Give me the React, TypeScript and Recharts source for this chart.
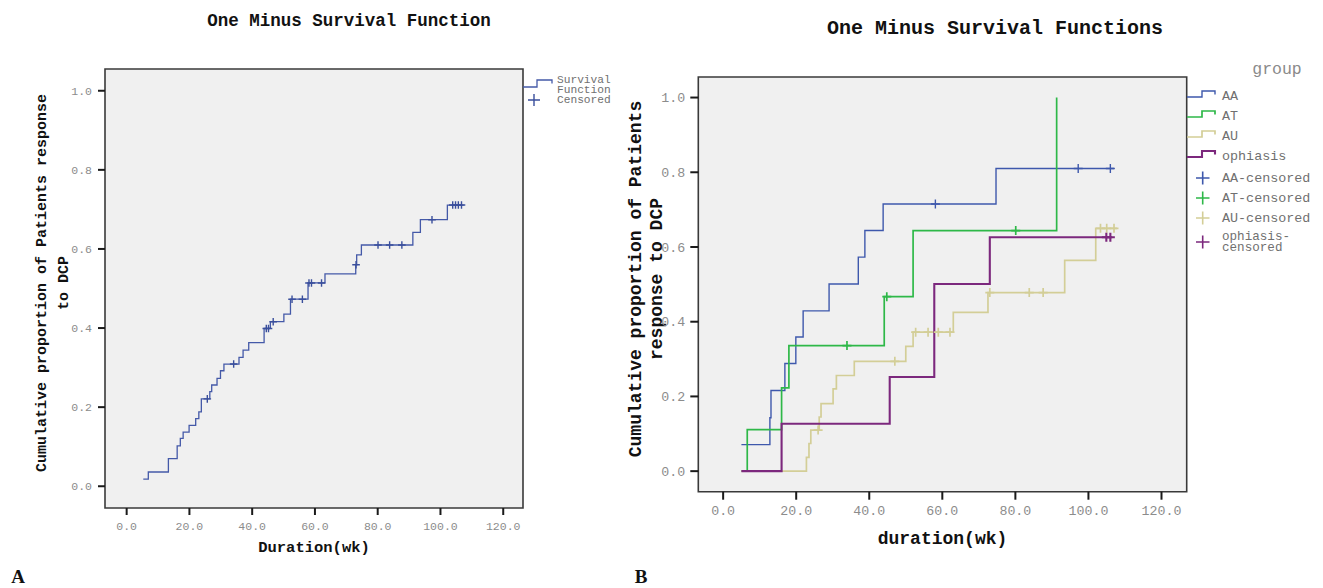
import {
  CartesianGrid,
  ComposedChart,
  Line,
  ReferenceArea,
  Scatter,
  XAxis,
  YAxis
} from "recharts";

// shared axis ticks
const xTicks = [0, 20, 40, 60, 80, 100, 120];
const yTicks = [0, 0.2, 0.4, 0.6, 0.8, 1.0];

// panel A: whole cohort, [week, cumulative proportion]
const overallSteps = [
  [5.3, 0.018], [6.9, 0.036], [13.3, 0.07], [16.1, 0.102], [17.1, 0.121],
  [18.0, 0.137], [19.9, 0.154], [22.0, 0.171], [23.0, 0.188], [23.8, 0.221],
  [26.5, 0.239], [27.1, 0.256], [28.8, 0.273], [29.9, 0.292], [31.0, 0.309],
  [35.8, 0.326], [37.1, 0.344], [38.9, 0.363], [43.8, 0.399], [45.8, 0.416],
  [50.1, 0.435], [52.2, 0.473], [57.8, 0.514], [63.2, 0.537], [73.0, 0.56],
  [73.3, 0.585], [74.8, 0.61], [91.2, 0.642], [93.6, 0.674], [102.2, 0.711],
  [107.4, 0.711]
];
const overallCensored = [
  [25.7, 0.221], [34.1, 0.309], [44.5, 0.399], [45.2, 0.399], [46.7, 0.416],
  [52.7, 0.473], [56.0, 0.473], [58.1, 0.514], [58.9, 0.514], [62.1, 0.514],
  [73.1, 0.56], [80.1, 0.61], [83.8, 0.61], [87.7, 0.61], [97.3, 0.674],
  [103.9, 0.711], [104.8, 0.711], [105.7, 0.711], [106.7, 0.711]
];

// panel B: by group
const groupNames = ["AA", "AT", "AU", "ophiasis"];
const groupColors = ["#3e58ac", "#2eb848", "#d3ce97", "#7c287d"];
const groupWidths = [1.4, 1.7, 1.7, 2.1];

const aaSteps = [
  [5.0, 0.071], [12.8, 0.143], [13.1, 0.216], [16.9, 0.288], [19.9, 0.359],
  [21.9, 0.429], [29.0, 0.501], [37.0, 0.573], [38.8, 0.644], [43.8, 0.715],
  [74.7, 0.81], [107.0, 0.81]
];
const aaCensored = [[58.1, 0.715], [97.2, 0.81], [106.0, 0.81]];

const atSteps = [
  [5.0, 0], [6.6, 0.111], [16.0, 0.223], [18.0, 0.336], [44.1, 0.467],
  [52.0, 0.644], [91.3, 1.0]
];
const atCensored = [[33.9, 0.336], [44.8, 0.467], [80.1, 0.644]];

const auSteps = [
  [5.0, 0], [22.8, 0.037], [23.5, 0.074], [24.0, 0.11], [26.3, 0.145],
  [26.8, 0.181], [30.1, 0.22], [31.0, 0.256], [35.9, 0.294], [50.0, 0.334],
  [52.0, 0.372], [63.0, 0.425], [72.5, 0.478], [93.5, 0.564], [102.0, 0.65],
  [107.8, 0.65]
];
const auCensored = [
  [26.0, 0.11], [47.0, 0.294], [52.7, 0.372], [56.1, 0.372], [58.9, 0.372],
  [62.1, 0.372], [73.0, 0.478], [83.8, 0.478], [87.6, 0.478], [103.3, 0.65],
  [105.0, 0.65], [107.0, 0.65]
];

const ophSteps = [
  [5.0, 0], [16.0, 0.127], [45.6, 0.252], [57.8, 0.501], [73.0, 0.626],
  [106.5, 0.626]
];
const ophCensored = [[104.9, 0.626], [106.0, 0.626]];

const groupSteps = [aaSteps, atSteps, auSteps, ophSteps];
const groupCensored = [aaCensored, atCensored, auCensored, ophCensored];

const mono = "'Liberation Mono', 'Courier New', monospace";
const toPoints = (rows: number[][]) => rows.map(([x, y]) => ({ x, y }));
const fmt = (v: number) => Number(v).toFixed(1);

const plus = (half: number, color: string, width: number) => (props: any) => {
  const { cx, cy } = props;
  return (
    <path
      d={`M${cx - half},${cy}H${cx + half}M${cx},${cy - half}V${cy + half}`}
      stroke={color}
      strokeWidth={width}
      fill="none"
    />
  );
};

function XTitle(props: any) {
  const { viewBox, text, dy, fontSize } = props;
  return (
    <text
      x={viewBox.x + viewBox.width / 2}
      y={viewBox.y + dy}
      textAnchor="middle"
      dominantBaseline="central"
      fontFamily={mono}
      fontWeight="bold"
      fontSize={fontSize}
      fill="#111"
    >
      {text}
    </text>
  );
}

function YTitle(props: any) {
  const { lines, xs, cy, fontSize } = props;
  return (
    <g>
      {lines.map((line: string, i: number) => (
        <text
          key={line}
          x={xs[i]}
          y={cy}
          transform={`rotate(-90, ${xs[i]}, ${cy})`}
          textAnchor="middle"
          dominantBaseline="central"
          fontFamily={mono}
          fontWeight="bold"
          fontSize={fontSize}
          fill="#111"
        >
          {line}
        </text>
      ))}
    </g>
  );
}

const xDomainA = [-6.9, 126.3];
const xDomainB = [-6.8, 126.9];
const yDomain = [-0.055, 1.055];

function PanelA() {
  return (
    <div style={{ position: "absolute", left: 0, top: 0 }}>
      <ComposedChart width={640} height={588} margin={{ top: 69, right: 117, bottom: 30, left: 45 }}>
        <CartesianGrid horizontal={false} vertical={false} fill="#f0f0f0" />
        <XAxis
          type="number"
          dataKey="x"
          domain={xDomainA}
          ticks={xTicks}
          allowDataOverflow
          tickFormatter={fmt}
          height={50}
          axisLine={false}
          tickSize={7}
          tickMargin={7}
          tickLine={{ stroke: "#1a1a1a", strokeWidth: 2 }}
          tick={{ fill: "#8c8c8c", fontSize: 11.5, fontFamily: mono }}
          label={<XTitle text="Duration(wk)" dy={40} fontSize={15.5} />}
        />
        <YAxis
          type="number"
          dataKey="y"
          domain={yDomain}
          ticks={yTicks}
          allowDataOverflow
          tickFormatter={fmt}
          width={60}
          axisLine={false}
          tickSize={7}
          tickMargin={6}
          tickLine={{ stroke: "#1a1a1a", strokeWidth: 2 }}
          tick={{ fill: "#8c8c8c", fontSize: 11.5, fontFamily: mono }}
          label={
            <YTitle
              lines={["Cumulative proportion of Patients response", "to DCP"]}
              xs={[42.5, 64]}
              cy={283}
              fontSize={15}
            />
          }
        />
        <ReferenceArea
          x1={xDomainA[0]}
          x2={xDomainA[1]}
          y1={yDomain[0]}
          y2={yDomain[1]}
          fill="none"
          stroke="#3a3a3a"
          strokeWidth={1.6}
          ifOverflow="visible"
        />
        <Line
          data={toPoints(overallSteps)}
          dataKey="y"
          type="stepAfter"
          stroke="#4459a8"
          strokeWidth={1.3}
          dot={false}
          isAnimationActive={false}
        />
        <Scatter
          data={toPoints(overallCensored)}
          dataKey="y"
          shape={plus(3.8, "#3a4f9c", 1.4)}
          isAnimationActive={false}
        />
      </ComposedChart>
    </div>
  );
}

function PanelB() {
  return (
    <div style={{ position: "absolute", left: 600, top: 0 }}>
      <ComposedChart width={723} height={588} margin={{ top: 77, right: 136.3, bottom: 46.3, left: 8.3 }}>
        <CartesianGrid horizontal={false} vertical={false} fill="#f0f0f0" />
        <XAxis
          type="number"
          dataKey="x"
          domain={xDomainB}
          ticks={xTicks}
          allowDataOverflow
          tickFormatter={fmt}
          height={50}
          axisLine={false}
          tickSize={8}
          tickMargin={6}
          tickLine={{ stroke: "#1a1a1a", strokeWidth: 2 }}
          tick={{ fill: "#8c8c8c", fontSize: 13.3, fontFamily: mono }}
          label={<XTitle text="duration(wk)" dy={47} fontSize={18} />}
        />
        <YAxis
          type="number"
          dataKey="y"
          domain={yDomain}
          ticks={yTicks}
          allowDataOverflow
          tickFormatter={fmt}
          width={90}
          axisLine={false}
          tickSize={8}
          tickMargin={5}
          tickLine={{ stroke: "#1a1a1a", strokeWidth: 2 }}
          tick={{ fill: "#8c8c8c", fontSize: 13.3, fontFamily: mono }}
          label={
            <YTitle
              lines={["Cumulative proportion of Patients", "response to DCP"]}
              xs={[36, 57]}
              cy={279}
              fontSize={18}
            />
          }
        />
        <ReferenceArea
          x1={xDomainB[0]}
          x2={xDomainB[1]}
          y1={yDomain[0]}
          y2={yDomain[1]}
          fill="none"
          stroke="#3a3a3a"
          strokeWidth={1.6}
          ifOverflow="visible"
        />
        {groupSteps.map((rows, i) => (
          <Line
            key={groupNames[i]}
            data={toPoints(rows)}
            dataKey="y"
            type="stepAfter"
            stroke={groupColors[i]}
            strokeWidth={groupWidths[i]}
            dot={false}
            isAnimationActive={false}
          />
        ))}
        {groupCensored.map((rows, i) => (
          <Scatter
            key={groupNames[i] + "-c"}
            data={toPoints(rows)}
            dataKey="y"
            shape={plus(4.5, groupColors[i], groupWidths[i])}
            isAnimationActive={false}
          />
        ))}
      </ComposedChart>
    </div>
  );
}

// titles, legends and panel letters
function Overlay() {
  const legendText = { fontFamily: mono, fill: "#707070" };
  const stepIcon = (x0: number, y0: number) =>
    `M${x0},${y0}H${x0 + 15}V${y0 - 6}H${x0 + 28}V${y0 - 2.5}`;
  const censorRows = [178, 198, 218, 242];
  return (
    <svg
      width={1323}
      height={588}
      style={{ position: "absolute", left: 0, top: 0, pointerEvents: "none" }}
    >
      <text x={349} y={21} textAnchor="middle" dominantBaseline="central" fontFamily={mono} fontWeight="bold" fontSize={17.5} fill="#111">
        One Minus Survival Function
      </text>
      <text x={995} y={28.5} textAnchor="middle" dominantBaseline="central" fontFamily={mono} fontWeight="bold" fontSize={20} fill="#111">
        One Minus Survival Functions
      </text>

      {/* legend A */}
      <path d="M523,87H537V80H552V83.5" stroke="#4459a8" strokeWidth={1.3} fill="none" />
      <text x={557} y={80} dominantBaseline="central" fontSize={11.2} {...legendText}>Survival</text>
      <text x={557} y={89.5} dominantBaseline="central" fontSize={11.2} {...legendText}>Function</text>
      <path d="M528,100H540M534,94V106" stroke="#3a4f9c" strokeWidth={1.4} fill="none" />
      <text x={557} y={100} dominantBaseline="central" fontSize={11.2} {...legendText}>Censored</text>

      {/* legend B */}
      <text x={1277} y={69} textAnchor="middle" dominantBaseline="central" fontSize={16.5} {...legendText} fill="#8a8a8a">
        group
      </text>
      {groupNames.map((name, i) => (
        <g key={name}>
          <path
            d={stepIcon(1187, 97 + i * 20)}
            stroke={groupColors[i]}
            strokeWidth={groupWidths[i]}
            fill="none"
          />
          <text x={1222} y={97 + i * 20 - 1} dominantBaseline="central" fontSize={13.4} {...legendText}>
            {name}
          </text>
        </g>
      ))}
      {groupNames.map((name, i) => {
        const cy = censorRows[i];
        return (
          <g key={name + "-c"}>
            <path
              d={`M1196,${cy}H1209.5M1202.7,${cy - 6.5}V${cy + 6.5}`}
              stroke={groupColors[i]}
              strokeWidth={1.6}
              fill="none"
            />
            {i < 3 ? (
              <text x={1222} y={cy} dominantBaseline="central" fontSize={13.4} {...legendText}>
                {name}-censored
              </text>
            ) : (
              <>
                <text x={1222} y={cy - 5.5} dominantBaseline="central" fontSize={12.6} {...legendText}>
                  {name}-
                </text>
                <text x={1222} y={cy + 6} dominantBaseline="central" fontSize={12.6} {...legendText}>
                  censored
                </text>
              </>
            )}
          </g>
        );
      })}

      <text x={18} y={576} textAnchor="middle" dominantBaseline="central" fontFamily="'Liberation Serif', serif" fontWeight="bold" fontSize={19} fill="#111">
        A
      </text>
      <text x={641} y={576} textAnchor="middle" dominantBaseline="central" fontFamily="'Liberation Serif', serif" fontWeight="bold" fontSize={19} fill="#111">
        B
      </text>
    </svg>
  );
}

export default function App() {
  return (
    <div style={{ position: "absolute", left: 0, top: 0, width: 1323, height: 588, background: "#fff" }}>
      <PanelA />
      <PanelB />
      <Overlay />
    </div>
  );
}
